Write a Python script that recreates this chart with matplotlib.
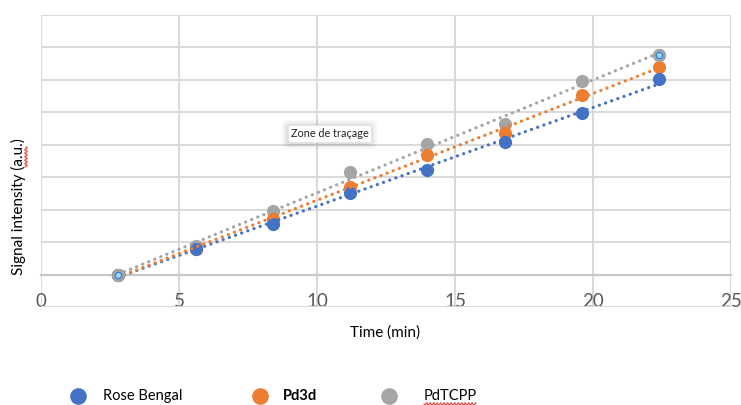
import numpy as np
import matplotlib
matplotlib.use("Agg")
import matplotlib.pyplot as plt
from matplotlib.lines import Line2D
from matplotlib.patches import FancyBboxPatch

plt.rcParams['font.family'] = ['Lato', 'DejaVu Sans']

# Sampling times (min)
time_min = [2.8, 5.6, 8.4, 11.2, 14.0, 16.8, 19.6, 22.4]

# Signal intensity (a.u.)
rose_bengal = [0.0, 0.78, 1.57, 2.51, 3.23, 4.10, 4.99, 6.02]
pd3d = [0.0, 0.79, 1.71, 2.70, 3.69, 4.36, 5.52, 6.40]
pdtcpp = [0.0, 0.87, 1.95, 3.16, 4.03, 4.65, 5.96, 6.77]

series_names = ["Rose Bengal", "Pd3d", "PdTCPP"]
series_colors = ["#4472C4", "#ED7D31", "#A5A5A5"]
x_ticks = [0, 5, 10, 15, 20, 25]

W, H = 741, 405
fig = plt.figure(figsize=(W / 100, H / 100), dpi=100)
ax = fig.add_axes([41 / W, 1 - 307 / H, (731 - 41) / W, (307 - 15) / H])

ax.set_xlim(0, 25)
ax.set_ylim(-1, 8)
ax.set_xticks(x_ticks)
ax.set_yticks(np.arange(-1, 9, 1))
ax.grid(True, color="#D9D9D9", linewidth=1.4, zorder=0)
ax.set_axisbelow(True)
for side in ["top", "right", "left"]:
    ax.spines[side].set_visible(False)
ax.spines["bottom"].set_position(("data", 0))
ax.spines["bottom"].set_color("#C8C8C8")
ax.spines["bottom"].set_linewidth(1.6)
ax.tick_params(axis="y", left=False, labelleft=False)
ax.tick_params(axis="x", length=0, pad=13, labelsize=13.5, labelcolor="#595959")

t = np.array(time_min)
data = [rose_bengal, pd3d, pdtcpp]

# markers: gray underneath, blue on top
for vals, col, z in zip(data, series_colors, [5, 4, 3]):
    ax.plot(t, vals, linestyle="none", marker="o", markersize=9.5,
            color=col, markeredgewidth=0, zorder=z)

# linear trendlines, dotted
for vals, col in zip(data, series_colors):
    k, b = np.polyfit(t, vals, 1)
    xs = np.array([t[0], t[-1]])
    ax.plot(xs, k * xs + b, color=col, linewidth=2.3,
            linestyle=(0, (0.05, 2.0)), dash_capstyle="round", zorder=6)

# selected series handles on the first and last PdTCPP points
for i in (0, -1):
    ax.plot(t[i], pdtcpp[i], marker="o", markersize=9.5, color="#A5A5A5",
            markeredgewidth=0, zorder=7)
    ax.plot(t[i], pdtcpp[i], marker="o", markersize=4.5, markerfacecolor="#A8D8FA",
            markeredgecolor="#2E86DE", markeredgewidth=1.0, zorder=8)

# plot-area tooltip with a soft shadow
tip_l, tip_t, tip_w, tip_h = 288, 125, 83, 17
for spread, alpha in [(6, 0.03), (4, 0.04), (2, 0.06)]:
    fig.add_artist(FancyBboxPatch(
        ((tip_l - spread) / W, 1 - (tip_t + tip_h + spread + 1) / H),
        (tip_w + 2 * spread) / W, (tip_h + 2 * spread) / H,
        boxstyle="round,pad=0,rounding_size=0.01", transform=fig.transFigure,
        facecolor="black", edgecolor="none", alpha=alpha, zorder=9))
fig.add_artist(FancyBboxPatch(
    (tip_l / W, 1 - (tip_t + tip_h) / H), tip_w / W, tip_h / H,
    boxstyle="square,pad=0", transform=fig.transFigure,
    facecolor="white", edgecolor="#E4E4E4", linewidth=0.8, zorder=10))
fig.text((tip_l + tip_w / 2) / W, 1 - (tip_t + tip_h / 2) / H, "Zone de traçage",
         ha="center", va="center", fontsize=7.8, color="#222222", zorder=11)

fig.text(385 / W, 1 - 333 / H, "Time (min)", ha="center", va="center",
         fontsize=11, color="#000000")
fig.text(18 / W, 1 - 207 / H, "Signal intensity (a.u.)", ha="center", va="center",
         rotation=90, fontsize=11, color="#000000")

# legend row
legend_y = 1 - 396 / H
marker_x = [78, 260, 389]
text_x = [103, 283, 424]
weights = ["normal", "bold", "normal"]
for name, col, mx, tx, w in zip(series_names, series_colors, marker_x, text_x, weights):
    fig.add_artist(Line2D([mx / W], [legend_y], marker="o", markersize=12,
                          color=col, markeredgewidth=0, transform=fig.transFigure))
    fig.text(tx / W, legend_y, name, ha="left", va="center", fontsize=10.5,
             fontweight=w, color="#000000")


def squiggle(x0, x1, y0, vertical=False):
    """Red wavy spell-check underline, in pixel units."""
    s = np.linspace(0, x1 - x0, int((x1 - x0) * 3) + 2)
    wave = 1.2 * np.sin(s * 2 * np.pi / 3.5)
    if vertical:
        xs, ys = y0 + wave, x0 + s
    else:
        xs, ys = x0 + s, y0 + wave
    fig.add_artist(Line2D(xs / W, 1 - ys / H, color="#E0403A", linewidth=0.8,
                          transform=fig.transFigure))


squiggle(147, 167, 26, vertical=True)
squiggle(424, 476, 404)

fig.savefig("out.png", dpi=100)
